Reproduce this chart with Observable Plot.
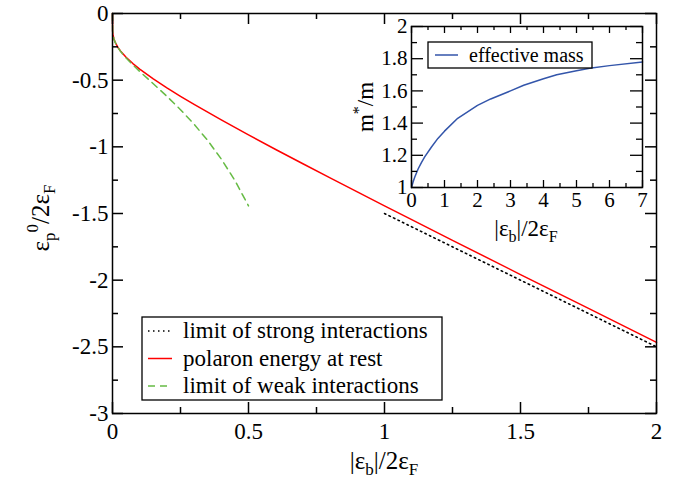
<!DOCTYPE html>
<html><head><meta charset="utf-8">
<script src="https://cdn.jsdelivr.net/npm/d3@7"></script>
<script src="https://cdn.jsdelivr.net/npm/@observablehq/plot@0.6"></script>
<style>
body{margin:0;background:white}
#wrap{position:relative;width:682px;height:487px}
#wrap svg{position:absolute;left:0;top:0}
</style>
</head><body><div id="wrap"></div>
<script>
// ---- main panel data ----
const strongX = [1.0, 2.0];
const strongY = [-1.5, -2.5];
const polaronX = [0, 0.0005, 0.001, 0.002, 0.005, 0.01, 0.02, 0.03, 0.05, 0.075, 0.1, 0.15, 0.2, 0.25, 0.3, 0.4, 0.5, 0.6, 0.7, 0.8, 0.9, 1.0, 1.1, 1.25, 1.5, 1.75, 2.0];
const polaronY = [0, -0.1316, -0.1447, -0.1609, -0.1886, -0.2167, -0.2543, -0.2828, -0.3284, -0.3755, -0.417, -0.491, -0.558, -0.621, -0.682, -0.798, -0.910, -1.020, -1.127, -1.233, -1.338, -1.443, -1.5465, -1.701, -1.958, -2.212, -2.466];
const weakX = [0, 0.0005, 0.001, 0.002, 0.005, 0.01, 0.02, 0.03, 0.05, 0.075, 0.1, 0.15, 0.2, 0.25, 0.3, 0.35, 0.4, 0.45, 0.5];
const weakY = [0, -0.1316, -0.1448, -0.1609, -0.1887, -0.2171, -0.2556, -0.2852, -0.3338, -0.3861, -0.4343, -0.5271, -0.6213, -0.7213, -0.8306, -0.9525, -1.0913, -1.2523, -1.4427];
const xMajor = [0, 0.5, 1, 1.5, 2];
const xMinor = [0.25, 0.75, 1.25, 1.75];
const yMajor = [0, -0.5, -1, -1.5, -2, -2.5, -3];
const yMinor = [-0.25, -0.75, -1.25, -1.75, -2.25, -2.75];
const legendLabels = ["limit of strong interactions", "polaron energy at rest", "limit of weak interactions"];

// ---- inset data ----
const massX = [0, 0.05, 0.1, 0.2, 0.3, 0.4, 0.6, 0.8, 1.0, 1.4, 2.0, 2.4, 3.0, 3.4, 4.0, 4.4, 5.0, 5.4, 6.0, 7.0];
const massY = [1.0, 1.035, 1.065, 1.115, 1.155, 1.19, 1.25, 1.305, 1.35, 1.43, 1.51, 1.55, 1.60, 1.635, 1.675, 1.70, 1.725, 1.74, 1.757, 1.78];
const ixMajor = [0, 1, 2, 3, 4, 5, 6, 7];
const ixMinor = [0.5, 1.5, 2.5, 3.5, 4.5, 5.5, 6.5];
const iyMajor = [1, 1.2, 1.4, 1.6, 1.8, 2];
const iyMinor = [1.1, 1.3, 1.5, 1.7, 1.9];
const insetLegend = "effective mass";

const W = 682, H = 487;
const FONT = "Liberation Serif";
const RED = "#ff0000", GREEN = "#66bb44", BLUE = "#3355aa";
const rows = (xs, ys) => xs.map((x, i) => ({x, y: ys[i]}));

const M = {l: 112, r: 26, t: 13, b: 74};
const pw = W - M.l - M.r, ph = H - M.t - M.b;
const fmt = d => String(d);

const main = Plot.plot({
  width: W, height: H,
  marginLeft: M.l, marginRight: M.r, marginTop: M.t, marginBottom: M.b,
  style: {background: "white", color: "black"},
  x: {domain: [0, 2]},
  y: {domain: [-3, 0]},
  marks: [
    Plot.line(rows(strongX, strongY), {x: "x", y: "y", stroke: "black", strokeWidth: 1.6, strokeDasharray: "1.5,3.5"}),
    Plot.line(rows(polaronX, polaronY), {x: "x", y: "y", stroke: RED, strokeWidth: 1.5}),
    Plot.line(rows(weakX, weakY), {x: "x", y: "y", stroke: GREEN, strokeWidth: 1.5, strokeDasharray: "7,5"}),
    Plot.tickX(xMajor, {x: d => d, insetTop: ph - 11, strokeWidth: 1.5}),
    Plot.tickX(xMajor, {x: d => d, insetBottom: ph - 11, strokeWidth: 1.5}),
    Plot.tickX(xMinor, {x: d => d, insetTop: ph - 6, strokeWidth: 1.5}),
    Plot.tickX(xMinor, {x: d => d, insetBottom: ph - 6, strokeWidth: 1.5}),
    Plot.tickY(yMajor, {y: d => d, insetRight: pw - 11, strokeWidth: 1.5}),
    Plot.tickY(yMajor, {y: d => d, insetLeft: pw - 11, strokeWidth: 1.5}),
    Plot.tickY(yMinor, {y: d => d, insetRight: pw - 6, strokeWidth: 1.5}),
    Plot.tickY(yMinor, {y: d => d, insetLeft: pw - 6, strokeWidth: 1.5}),
    Plot.axisX(xMajor, {tickSize: 0, tickPadding: 9, tickFormat: fmt, label: null, fontSize: 23}),
    Plot.axisY(yMajor, {tickSize: 0, tickPadding: 4, tickFormat: fmt, label: null, fontSize: 23}),
    Plot.frame({stroke: "black", strokeWidth: 1.5})
  ]
});

const I = {l: 411, r: 40, t: 26, b: 300};
const ipw = W - I.l - I.r, iph = H - I.t - I.b;
const inset = Plot.plot({
  width: W, height: H,
  marginLeft: I.l, marginRight: I.r, marginTop: I.t, marginBottom: I.b,
  style: {background: "transparent", color: "black"},
  x: {domain: [0, 7]},
  y: {domain: [1, 2]},
  marks: [
    Plot.frame({fill: "white", stroke: null}),
    Plot.line(rows(massX, massY), {x: "x", y: "y", stroke: BLUE, strokeWidth: 1.5}),
    Plot.tickX(ixMajor, {x: d => d, insetTop: iph - 7, strokeWidth: 1.3}),
    Plot.tickX(ixMajor, {x: d => d, insetBottom: iph - 7, strokeWidth: 1.3}),
    Plot.tickX(ixMinor, {x: d => d, insetTop: iph - 4, strokeWidth: 1.3}),
    Plot.tickX(ixMinor, {x: d => d, insetBottom: iph - 4, strokeWidth: 1.3}),
    Plot.tickY(iyMajor, {y: d => d, insetRight: ipw - 12, strokeWidth: 1.3}),
    Plot.tickY(iyMajor, {y: d => d, insetLeft: ipw - 12, strokeWidth: 1.3}),
    Plot.tickY(iyMinor, {y: d => d, insetRight: ipw - 6, strokeWidth: 1.3}),
    Plot.tickY(iyMinor, {y: d => d, insetLeft: ipw - 6, strokeWidth: 1.3}),
    Plot.axisX(ixMajor, {tickSize: 0, tickPadding: 5, tickFormat: fmt, label: null, fontSize: 21}),
    Plot.axisY(iyMajor, {tickSize: 0, tickPadding: 4, tickFormat: fmt, label: null, fontSize: 21}),
    Plot.frame({stroke: "black", strokeWidth: 1.5})
  ]
});

const wrap = document.getElementById("wrap");
wrap.appendChild(main);
wrap.appendChild(inset);

// ---- labels and legends ----
const sm = d3.select(main);
function subLabel(sel, parts, size, subSize) {
  let cur = 0;
  for (const [t, s] of parts) {
    sel.append("tspan").text(t).attr("dy", s - cur).attr("font-size", s === 0 ? size : subSize);
    cur = s;
  }
}
const yl = sm.append("text").attr("transform", "translate(49,218) rotate(-90)")
  .attr("text-anchor", "middle").attr("font-size", 25).attr("fill", "black");
subLabel(yl, [["ε", 0], ["p", 6], ["0", -11], ["/2ε", 0], ["F", 6]], 25, 17);

const xl = sm.append("text").attr("transform", "translate(384,469)")
  .attr("text-anchor", "middle").attr("font-size", 25).attr("fill", "black");
subLabel(xl, [["|ε", 0], ["b", 6], ["|/2ε", 0], ["F", 6]], 25, 17);

// main legend
const lg = sm.append("g");
lg.append("rect").attr("x", 142).attr("y", 317).attr("width", 300).attr("height", 83)
  .attr("fill", "white").attr("stroke", "black").attr("stroke-width", 1.3);
const styles = [
  {stroke: "black", dash: "1.5,3.5", w: 1.6},
  {stroke: RED, dash: null, w: 1.5},
  {stroke: GREEN, dash: "7,5", w: 1.5}
];
legendLabels.forEach((t, i) => {
  const base = 338 + i * 27.5;
  const ln = lg.append("line").attr("x1", 148).attr("x2", 172).attr("y1", base - 7).attr("y2", base - 7)
    .attr("stroke", styles[i].stroke).attr("stroke-width", styles[i].w);
  if (styles[i].dash) ln.attr("stroke-dasharray", styles[i].dash);
  lg.append("text").attr("x", 183).attr("y", base).attr("text-anchor", "start").text(t)
    .attr("font-size", 23).attr("fill", "black");
});

// inset labels
const si = d3.select(inset);
const iyl = si.append("text").attr("transform", "translate(373,107) rotate(-90)")
  .attr("text-anchor", "middle").attr("font-size", 23).attr("fill", "black");
subLabel(iyl, [["m", 0], ["*", -9], ["/m", 0]], 23, 16);
const ixl = si.append("text").attr("transform", "translate(526,236)")
  .attr("text-anchor", "middle").attr("font-size", 23).attr("fill", "black");
subLabel(ixl, [["|ε", 0], ["b", 6], ["|/2ε", 0], ["F", 6]], 23, 16);
si.append("rect").attr("x", 428).attr("y", 42).attr("width", 164).attr("height", 26)
  .attr("fill", "white").attr("stroke", "black").attr("stroke-width", 1.3);
si.append("line").attr("x1", 435).attr("x2", 458).attr("y1", 55).attr("y2", 55)
  .attr("stroke", BLUE).attr("stroke-width", 1.5);
si.append("text").attr("x", 469).attr("y", 62).attr("text-anchor", "start").text(insetLegend)
  .attr("font-size", 20).attr("fill", "black");

// apply the serif face directly on every text element
d3.selectAll("#wrap svg").attr("font-family", FONT);
d3.selectAll("#wrap text, #wrap tspan").attr("font-family", FONT).style("font-family", "'Liberation Serif'");
</script>
</body></html>
